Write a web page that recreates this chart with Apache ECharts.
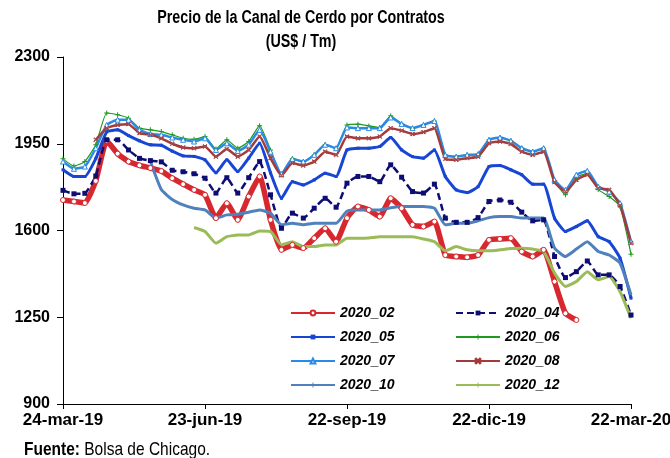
<!DOCTYPE html>
<html>
<head>
<meta charset="utf-8">
<script src="https://cdn.jsdelivr.net/npm/echarts@6/dist/echarts.min.js"></script>
<style>
html, body { margin: 0; padding: 0; background: #fff; }
#chart { width: 670px; height: 458px; }
</style>
</head>
<body>
<div id="chart"></div>
<script>
// semanas (domingo) del 24-mar-19 al 22-mar-20
var fechas = [
    '24-mar-19','31-mar-19','07-abr-19','14-abr-19','21-abr-19','28-abr-19','05-may-19','12-may-19','19-may-19','26-may-19',
    '02-jun-19','09-jun-19','16-jun-19','23-jun-19','30-jun-19','07-jul-19','14-jul-19','21-jul-19','28-jul-19','04-ago-19',
    '11-ago-19','18-ago-19','25-ago-19','01-sep-19','08-sep-19','15-sep-19','22-sep-19','29-sep-19','06-oct-19','13-oct-19',
    '20-oct-19','27-oct-19','03-nov-19','10-nov-19','17-nov-19','24-nov-19','01-dic-19','08-dic-19','15-dic-19','22-dic-19',
    '29-dic-19','05-ene-20','12-ene-20','19-ene-20','26-ene-20','02-feb-20','09-feb-20','16-feb-20','23-feb-20','01-mar-20',
    '08-mar-20','15-mar-20','22-mar-20'
];
var tickFechas = ['24-mar-19', '23-jun-19', '22-sep-19', '22-dic-19', '22-mar-20'];

var c2020_02 = [1723,1717,1711,1800,1962,1910,1878,1863,1852,1840,1811,1787,1764,1744,1650,1710,1643,1737,1818,1643,
    1522,1542,1529,1569,1609,1555,1650,1697,1683,1656,1730,1690,1623,1616,1636,1501,1495,1492,1501,1562,
    1566,1569,1515,1495,1522,1394,1266,1239];
var c2020_04 = [1762,1748,1750,1820,1966,1966,1925,1891,1882,1877,1843,1837,1829,1811,1751,1813,1751,1813,1878,1744,
    1609,1670,1650,1690,1730,1694,1791,1818,1818,1797,1865,1815,1757,1751,1787,1650,1633,1633,1652,1717,
    1723,1714,1674,1639,1643,1495,1410,1434,1477,1421,1421,1374,1259];
var c2020_05 = [1845,1818,1818,1890,1998,2006,1983,1962,1946,1944,1920,1901,1899,1885,1833,1885,1838,1892,1952,1832,
    1730,1797,1784,1804,1831,1818,1925,1932,1932,1939,1975,1925,1898,1892,1925,1818,1764,1753,1777,1858,
    1862,1845,1825,1787,1787,1650,1596,1616,1639,1575,1555,1488,1327];
var c2020_06 = [1889,1860,1878,1946,2074,2067,2053,2013,2006,1999,1986,1972,1968,1979,1929,1966,1932,1959,2023,1925,
    1825,1889,1878,1905,1946,1932,2026,2029,2022,2016,2063,2030,2013,2026,2042,1905,1898,1905,1908,1966,
    1975,1962,1932,1918,1932,1800,1744,1815,1830,1765,1737,1697,1504];
var c2020_07 = [1878,1849,1858,1932,2026,2047,2047,2006,1989,1986,1975,1966,1959,1972,1925,1952,1921,1946,2006,1918,
    1828,1889,1878,1905,1946,1932,2016,2013,2013,2013,2056,2030,2013,2026,2042,1905,1898,1905,1908,1966,
    1975,1962,1932,1918,1932,1804,1764,1825,1841,1777,1757,1710,1555];
var c2020_08 = [null,null,null,1966,2013,2026,2029,1993,1986,1972,1950,1935,1932,1939,1898,1929,1898,1925,1979,1892,
    1822,1872,1862,1878,1918,1905,1979,1972,1972,1979,2013,2003,1989,1997,2013,1889,1885,1892,1898,1952,
    1959,1949,1918,1905,1918,1795,1757,1804,1825,1771,1764,1701,1549];
var c2020_10 = [null,null,null,null,null,null,null,null,1878,1765,1725,1703,1690,1683,1650,1663,1666,1674,1683,1670,
    1623,1629,1623,1629,1629,1629,1678,1683,1683,1683,1692,1697,1697,1697,1690,1623,1629,1629,1639,1652,
    1656,1656,1650,1650,1650,1529,1495,1525,1555,1515,1501,1468,1340];
var c2020_12 = [null,null,null,null,null,null,null,null,null,null,null,null,1612,1596,1549,1575,1582,1582,1598,1596,
    1542,1555,1535,1535,1542,1542,1569,1569,1570,1575,1575,1575,1575,1566,1555,1518,1535,1522,1518,1518,
    1522,1527,1528,1525,1515,1428,1374,1394,1434,1401,1414,1353,1246];

var fuente = "'Liberation Sans', Arial, sans-serif";
var simboloMas = 'path://M4,0H6V4H10V6H6V10H4V6H0V4H4Z';
var simboloX = 'path://M1,0L5,4L9,0L10,1L6,5L10,9L9,10L5,6L1,10L0,9L4,5L0,1Z';

function linea(nombre, datos, color, ancho, simbolo, tam, relleno, tipo, ocultar) {
    return {
        name: nombre,
        type: 'line',
        data: datos,
        symbol: simbolo,
        symbolSize: tam,
        showSymbol: !ocultar,
        connectNulls: false,
        smooth: 0.15,
        lineStyle: { color: color, width: ancho, type: tipo || 'solid' },
        itemStyle: { color: relleno || color, borderColor: color, borderWidth: relleno ? 1 : 0 }
    };
}

var myChart = echarts.init(document.getElementById('chart'));
var esTick = function (i, v) { return tickFechas.indexOf(v) >= 0; };

var option = {
    animation: false,
    backgroundColor: '#fff',
    grid: { left: 63, right: 39, top: 57, bottom: 54, outerBoundsMode: 'none' },
    graphic: [
        { type: 'text', x: 301, y: 18, scaleY: 1.25, style: { text: 'Precio de la Canal de Cerdo por Contratos', align: 'center', verticalAlign: 'middle', font: 'bold 14.3px ' + fuente, fill: '#000' } },
        { type: 'text', x: 301, y: 42, scaleY: 1.25, style: { text: '(US$ / Tm)', align: 'center', verticalAlign: 'middle', font: 'bold 14.3px ' + fuente, fill: '#000' } },
        {
            type: 'text', x: 24, y: 450, scaleY: 1.2,
            style: {
                text: '{b|Fuente:} Bolsa de Chicago.',
                verticalAlign: 'middle',
                rich: {
                    b: { font: 'bold 15.5px ' + fuente, fill: '#000' }
                },
                font: '15.5px ' + fuente, fill: '#000'
            }
        }
    ],
    legend: [
        {
            left: 285, top: 301, orient: 'vertical', itemWidth: 44, itemHeight: 6, itemGap: 10,
            data: ['2020_02', '2020_05', '2020_07', '2020_10'],
            textStyle: { fontFamily: fuente, fontSize: 14, fontWeight: 'bold', fontStyle: 'italic', color: '#000' }
        },
        {
            left: 450, top: 301, orient: 'vertical', itemWidth: 44, itemHeight: 6, itemGap: 10,
            data: ['2020_04', '2020_06', '2020_08', '2020_12'],
            textStyle: { fontFamily: fuente, fontSize: 14, fontWeight: 'bold', fontStyle: 'italic', color: '#000' }
        }
    ],
    xAxis: {
        type: 'category',
        data: fechas,
        boundaryGap: false,
        axisLine: { lineStyle: { color: '#000', width: 1 } },
        axisTick: { show: true, interval: esTick, length: 5, lineStyle: { color: '#000' } },
        axisLabel: { interval: esTick, color: '#000', fontFamily: fuente, fontSize: 17, fontWeight: 'bold', margin: 8 },
        splitLine: { show: false }
    },
    yAxis: {
        type: 'value',
        min: 900, max: 2300, interval: 350,
        axisLine: { show: true, lineStyle: { color: '#000', width: 1 } },
        axisTick: { show: true, length: 6, lineStyle: { color: '#000' } },
        axisLabel: { color: '#000', fontFamily: fuente, fontSize: 16, fontWeight: 'bold', margin: 13, formatter: function (v) { return String(v); } },
        splitLine: { show: false }
    },
    series: [
        linea('2020_02', c2020_02, '#d7282f', 5.5, 'circle', 5, '#ffffff'),
        linea('2020_04', c2020_04, '#0d0d73', 2.5, 'rect', 5, null, [7, 4]),
        linea('2020_05', c2020_05, '#1746d4', 3, 'rect', 3),
        linea('2020_06', c2020_06, '#1e9a1e', 1.2, simboloMas, 5),
        linea('2020_07', c2020_07, '#2a8be6', 2.5, 'triangle', 5, '#ffffff'),
        linea('2020_08', c2020_08, '#a33b3b', 2.5, simboloX, 4, '#f0c8c8'),
        linea('2020_10', c2020_10, '#4f81bd', 3, simboloMas, 3, null, null, true),
        linea('2020_12', c2020_12, '#9bbb59', 3, simboloMas, 3, null, null, true)
    ]
};

myChart.setOption(option);
</script>
</body>
</html>
